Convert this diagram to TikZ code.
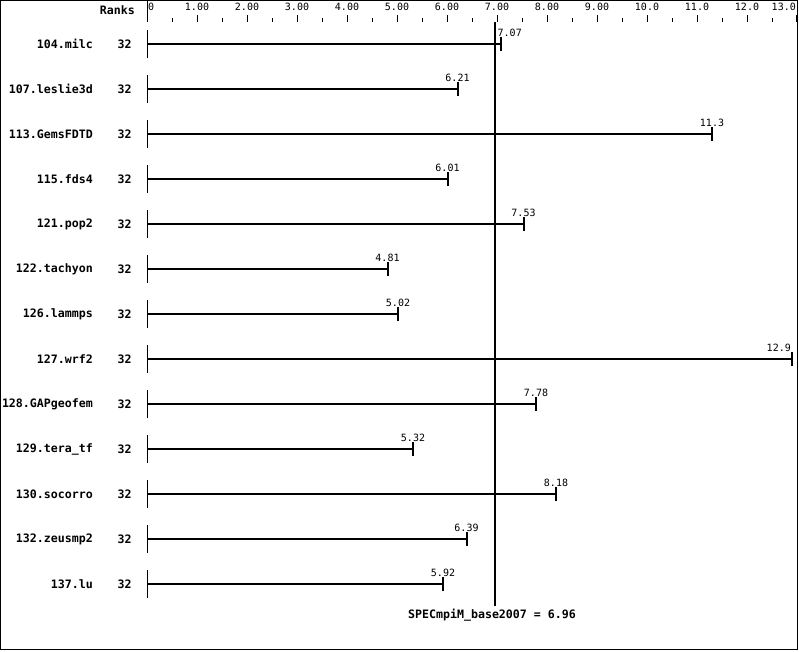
\documentclass[tikz,border=0pt]{standalone}
\usepackage{fontspec}
\setmonofont{DejaVu Sans Mono}
\begin{document}
\begin{tikzpicture}[x=1pt,y=-1pt,
  lbl/.style={font=\ttfamily\bfseries\fontsize{11.6}{12}\selectfont, inner sep=0pt},
  val/.style={font=\ttfamily\fontsize{10}{11}\selectfont, inner sep=0pt},
  bar/.style={line width=2pt},
  endtick/.style={line width=2pt},
  axisline/.style={line width=1pt},
  refline/.style={line width=2pt}]
\useasboundingbox (0,0) rectangle (799,651);
\draw[line width=1pt] (0.5,0.5) rectangle (797.5,649.5);
% axis
\coordinate (ax0) at (147,0);
\coordinate (ax1) at (147,22);
\draw[axisline] (ax0) -- (ax1);
\node[lbl, anchor=east] (ranks) at (135,10) {Ranks};
\node[val, anchor=west] (t0) at (148,7) {0};
\foreach \k in {1,...,9}{
  \pgfmathsetmacro\xx{147+50*\k}
  \node[val] (t\k) at (\xx,7) {\k.00};
  \draw[axisline] (\xx,15) -- (\xx,22);
}
\foreach \k in {10,11,12}{
  \pgfmathsetmacro\xx{147+50*\k}
  \node[val] (t\k) at (\xx,7) {\k.0};
  \draw[axisline] (\xx,15) -- (\xx,22);
}
\node[val, anchor=east] (t13) at (796,7) {13.0};
\draw[axisline] (796.5,15) -- (796.5,22);
\foreach \k in {0,...,12}{
  \pgfmathsetmacro\xx{147+50*\k+25}
  \draw[axisline] (\xx,18) -- (\xx,22);
}
% rows
\foreach \i/\name/\v [count=\n from 0] in {
  a/104.milc/7.07, b/107.leslie3d/6.21, c/113.GemsFDTD/11.3, d/115.fds4/6.01,
  e/121.pop2/7.53, f/122.tachyon/4.81, g/126.lammps/5.02, h/127.wrf2/12.9,
  i/128.GAPgeofem/7.78, j/129.tera\_tf/5.32, k/130.socorro/8.18,
  l/132.zeusmp2/6.39, m/137.lu/5.92}{
  \pgfmathsetmacro\yy{44+45*\n}
  \pgfmathsetmacro\xe{min(147+50*\v,796)}
  \node[lbl, anchor=east] (n\i) at (93,\yy) {\name};
  \node[lbl] (r\i) at (124.5,\yy) {32};
  \coordinate (s\i) at (147,\yy);
  \coordinate (e\i) at (\xe,\yy);
  \draw[axisline] ([yshift=-14pt]s\i) -- ([yshift=14pt]s\i);
  \draw[bar] (s\i) -- (e\i);
  \draw[endtick] ([yshift=-7pt]e\i) -- ([yshift=7pt]e\i);
}
% value labels
\foreach \i/\v in {b/6.21, d/6.01, e/7.53, f/4.81, g/5.02, i/7.78, j/5.32, k/8.18, l/6.39, m/5.92, c/11.3}{
  \node[val, anchor=south] (v\i) at ([yshift=7.5pt]e\i) {\v};
}
\node[val, anchor=south west] (va) at ([yshift=7.5pt,xshift=-3pt]ea) {7.07};
\node[val, anchor=south east] (vh) at ([yshift=7.5pt,xshift=-1pt]eh) {12.9};
% reference line
\coordinate (ref0) at (494.5,22);
\coordinate (ref1) at (494.5,606);
\draw[refline] (ref0) -- (ref1);
\node[lbl] (spec) at (492,615) {SPECmpiM\_base2007 = 6.96};
\end{tikzpicture}
\end{document}
